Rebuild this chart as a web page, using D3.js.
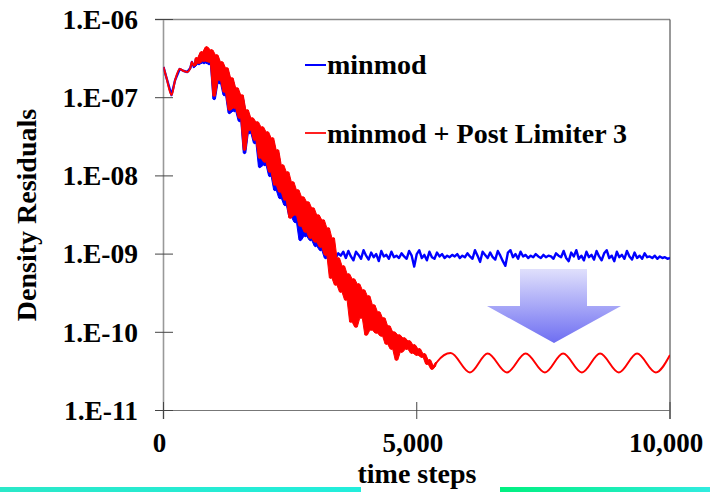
<!DOCTYPE html>
<html>
<head>
<meta charset="utf-8">
<script src="https://cdn.jsdelivr.net/npm/d3@7/dist/d3.min.js"></script>
<style>
html,body{margin:0;padding:0;background:#fff;}
svg{display:block;}
text{font-family:"Liberation Serif","Times New Roman",serif;font-weight:bold;fill:#000;}
</style>
</head>
<body>
<svg id="chart" width="710" height="492"></svg>
<script>
// ---------------- DATA (log10 of density residual) ----------------
const seriesNames = ["minmod", "minmod + Post Limiter 3"];
const yTickValues = [1e-6, 1e-7, 1e-8, 1e-9, 1e-10, 1e-11];
const yTickLabels = ["1.E-06", "1.E-07", "1.E-08", "1.E-09", "1.E-10", "1.E-11"];
const xTickValues = [0, 5000, 10000];
const xTickLabels = ["0", "5,000", "10,000"];

// shared start (both schemes identical)
const headT   = [0, 60, 158, 230, 320, 400, 470, 530, 560];
const headLog = [-6.607, -6.748, -6.966, -6.774, -6.633, -6.659, -6.671, -6.620, -6.543];

// oscillating section sampled every 50 steps from t = 600
const noisyStart = 600, noisyStep = 50;
const blueNoisyLog = [
  -6.607, -6.505, -6.569, -6.428, -6.556, -6.377, -6.569, -6.416, -7.017, -6.480,
  -6.812, -6.569, -6.966, -6.646, -7.196, -6.774, -7.170, -6.902, -7.298, -6.991,
  -7.707, -7.183, -7.451, -7.285, -7.579, -7.336, -7.886, -7.400, -7.861, -7.464,
  -8.001, -7.554, -8.180, -7.707, -8.283, -7.899, -8.372, -8.001, -8.526, -8.116,
  -8.590, -8.219, -8.820, -8.308, -8.769, -8.385, -8.820, -8.462, -8.896, -8.564,
  -8.948, -8.666, -9.050, -8.820, -9.101, -8.948, -9.050
];
// minmod plateau sampled every 50 steps from t = 3450
const blueTailStart = 3450, blueTailStep = 50;
const blueTailLog = [
  -8.99,-9.02,-8.97,-9.05,-8.96,-9.03,-9.08,-8.97,-9.01,-9.06,
  -8.95,-9.02,-9.07,-8.98,-9.04,-9.00,-9.09,-8.96,-9.03,-9.01,
  -9.06,-8.97,-9.04,-9.02,-9.05,-8.99,-9.03,-9.06,-8.96,-9.02,
  -9.16,-9.00,-8.95,-9.05,-9.01,-9.08,-8.97,-9.04,-9.06,-8.98,
  -9.03,-9.00,-9.05,-9.02,-9.04,-9.01,-9.03,-9.00,-9.05,-9.02,
  -9.04,-8.99,-9.03,-9.06,-8.95,-9.02,-9.10,-8.97,-9.01,-9.05,
  -8.98,-9.04,-9.07,-8.96,-9.02,-9.09,-9.15,-8.98,-8.95,-9.04,
  -9.00,-9.06,-8.97,-9.03,-9.01,-9.05,-9.02,-9.04,-9.00,-9.03,
  -9.05,-9.01,-9.04,-9.02,-9.03,-9.06,-8.99,-9.02,-9.04,-8.96,
  -9.05,-9.09,-8.98,-9.03,-8.95,-9.06,-9.02,-9.08,-8.97,-9.04,
  -9.01,-9.07,-8.96,-9.03,-9.08,-8.99,-8.95,-9.05,-9.02,-9.09,
  -8.97,-9.04,-9.01,-9.06,-8.96,-9.03,-9.07,-8.98,-9.05,-9.02,
  -9.06,-8.99,-9.04,-9.03,-9.05,-9.02,-9.06,-9.03,-9.05,-9.04,
  -9.06,-9.05
];
const redNoisyLog = [
  -6.595, -6.492, -6.556, -6.416, -6.531, -6.352, -6.543, -6.390, -6.978, -6.454,
  -6.774, -6.543, -6.927, -6.620, -7.157, -6.748, -7.132, -6.876, -7.260, -6.966,
  -7.669, -7.157, -7.413, -7.260, -7.541, -7.311, -7.771, -7.375, -7.822, -7.439,
  -7.950, -7.515, -8.116, -7.669, -8.206, -7.861, -8.308, -7.950, -8.538, -8.078,
  -8.500, -8.180, -8.641, -8.270, -8.717, -8.334, -8.794, -8.411, -8.845, -8.500,
  -8.909, -8.564, -9.012, -8.666, -9.306, -8.794, -9.395, -9.050, -9.485, -9.152,
  -9.587, -9.254, -9.869, -9.318, -9.933, -9.382, -9.818, -9.459, -10.035, -9.536,
  -9.971, -9.651, -10.009, -9.740, -10.047, -9.818, -10.150, -9.920, -10.214, -9.997,
  -10.355, -10.035, -10.252, -10.073, -10.214, -10.111, -10.265, -10.163, -10.291, -10.214,
  -10.316, -10.278, -10.406, -10.355, -10.469, -10.431, -10.380
];
// post-limiter smooth oscillation (peaks / troughs)
const redWaveT   = [5670, 6050, 6400, 6780, 7150, 7530, 7890, 8260, 8620, 8990, 9350, 9720, 10000];
const redWaveLog = [-10.265, -10.514, -10.271, -10.514, -10.271, -10.514, -10.271, -10.514, -10.271, -10.514, -10.271, -10.514, -10.29];

// ---------------- BUILD SERIES ----------------
const headPts = headT.map((t, i) => [t, headLog[i]]);
const blueNoisyPts = blueNoisyLog.map((v, i) => [noisyStart + i * noisyStep, v]);
const redNoisyPts = redNoisyLog.map((v, i) => [noisyStart + i * noisyStep, v]);
const bluePts = headPts.concat(blueNoisyPts, blueTailLog.map((v, i) => [blueTailStart + i * blueTailStep, v]));
const redPts = headPts.concat(redNoisyPts, redWaveT.map((t, i) => [t, redWaveLog[i]]));

// band covered by the rapid oscillation (between successive samples)
const bandOf = pts => d3.pairs(pts).map(([a, b]) => ({t: (a[0] + b[0]) / 2, hi: Math.max(a[1], b[1]), lo: Math.min(a[1], b[1])}));

// ---------------- CHART ----------------
const svg = d3.select("#chart");
const x = d3.scaleLinear().domain([0, 10000]).range([163.5, 670]);
const y = d3.scaleLog().domain([1e-11, 1e-6]).range([410.5, 19.5]);
const Y = v => y(Math.pow(10, v));

const defs = svg.append("defs");
const g1 = defs.append("linearGradient").attr("id", "barL");
g1.append("stop").attr("offset", "0%").attr("stop-color", "#2ae8c8");
g1.append("stop").attr("offset", "100%").attr("stop-color", "#22eedc");
const g2 = defs.append("linearGradient").attr("id", "barR");
g2.append("stop").attr("offset", "0%").attr("stop-color", "#00f080");
g2.append("stop").attr("offset", "100%").attr("stop-color", "#30ece0");
const ga = defs.append("linearGradient").attr("id", "arrowGrad").attr("x1", 0).attr("y1", 0).attr("x2", 0).attr("y2", 1);
ga.append("stop").attr("offset", "0%").attr("stop-color", "#e0e0fc");
ga.append("stop").attr("offset", "100%").attr("stop-color", "#6e6ef2");
defs.append("clipPath").attr("id", "plotClip").append("rect")
  .attr("x", x(0)).attr("y", y(1e-6)).attr("width", x(10000) - x(0)).attr("height", y(1e-11) - y(1e-6));

svg.append("rect").attr("x", 0).attr("y", 487).attr("width", 361).attr("height", 5).attr("fill", "url(#barL)");
svg.append("rect").attr("x", 500).attr("y", 487).attr("width", 210).attr("height", 5).attr("fill", "url(#barR)");

// frame
svg.append("line").attr("x1", 155).attr("x2", x(10000)).attr("y1", y(1e-6)).attr("y2", y(1e-6)).attr("stroke", "#8a8a8a").attr("stroke-width", 1.5);
svg.append("line").attr("x1", x(10000)).attr("x2", x(10000)).attr("y1", y(1e-6)).attr("y2", 419).attr("stroke", "#555").attr("stroke-width", 1.2);
svg.append("line").attr("x1", 155).attr("x2", x(10000)).attr("y1", y(1e-11)).attr("y2", y(1e-11)).attr("stroke", "#777").attr("stroke-width", 1.2);
svg.append("line").attr("x1", x(0)).attr("x2", x(0)).attr("y1", y(1e-6)).attr("y2", 419).attr("stroke", "#999").attr("stroke-width", 1.6);

// y ticks & labels
svg.selectAll(".ytick").data(yTickValues).join("line")
  .attr("x1", 155).attr("x2", 173).attr("y1", d => y(d)).attr("y2", d => y(d))
  .attr("stroke", "#444").attr("stroke-width", 1);
svg.selectAll(".ylab").data(yTickValues).join("text")
  .attr("x", 138).attr("y", d => y(d)).attr("dy", "0.34em")
  .attr("text-anchor", "end").attr("font-size", 27.5)
  .text((d, i) => yTickLabels[i]);

// x ticks & labels
svg.selectAll(".xtick").data(xTickValues).join("line")
  .attr("x1", d => x(d)).attr("x2", d => x(d)).attr("y1", 402).attr("y2", 419)
  .attr("stroke", "#444").attr("stroke-width", 1);
svg.selectAll(".xlab").data(xTickValues).join("text")
  .attr("x", d => x(d) - 4).attr("y", 452)
  .attr("text-anchor", "middle").attr("font-size", 27)
  .text((d, i) => xTickLabels[i]);

// axis titles
svg.append("text").attr("x", 417).attr("y", 483).attr("text-anchor", "middle").attr("font-size", 28).text("time steps");
svg.append("text").attr("transform", "translate(36,215) rotate(-90)").attr("text-anchor", "middle").attr("font-size", 28).text("Density Residuals");

// arrow
const ax0 = 520, ax1 = 587, ay0 = 269, ay1 = 306, hx0 = 487, hx1 = 621, tipx = 554, tipy = 343;
svg.append("path")
  .attr("d", `M${ax0},${ay0}L${ax1},${ay0}L${ax1},${ay1}L${hx1},${ay1}L${tipx},${tipy}L${hx0},${ay1}L${ax0},${ay1}Z`)
  .attr("fill", "url(#arrowGrad)");

// lines
const plot = svg.append("g").attr("clip-path", "url(#plotClip)");
const area = d3.area().x(d => x(d.t)).y0(d => Y(d.lo)).y1(d => Y(d.hi));
const lineLin = d3.line().x(d => x(d[0])).y(d => Y(d[1]));
const lineSmooth = d3.line().x(d => x(d[0])).y(d => Y(d[1])).curve(d3.curveMonotoneX);

plot.append("path").datum(bandOf(blueNoisyPts)).attr("d", area).attr("fill", "#0000ff").attr("stroke", "#0000ff").attr("stroke-width", 1);
plot.append("path").datum(bluePts).attr("d", lineLin).attr("fill", "none").attr("stroke", "#0000ff").attr("stroke-width", 2.4).attr("stroke-linejoin", "round");
plot.append("path").datum(bandOf(redNoisyPts)).attr("d", area).attr("fill", "#ff0000").attr("stroke", "#ff0000").attr("stroke-width", 1);
plot.append("path").datum(redPts).attr("d", lineSmooth).attr("fill", "none").attr("stroke", "#ff0000").attr("stroke-width", 2).attr("stroke-linejoin", "round");

// legend
const legend = [{c: "#0000ff", ly: 65, ty: 74}, {c: "#ff2020", ly: 133, ty: 142.5}];
legend.forEach((l, i) => {
  svg.append("line").attr("x1", 305).attr("x2", 326).attr("y1", l.ly).attr("y2", l.ly).attr("stroke", l.c).attr("stroke-width", 2);
  svg.append("text").attr("x", 327).attr("y", l.ty).attr("font-size", 28).text(seriesNames[i]);
});
</script>
</body>
</html>
